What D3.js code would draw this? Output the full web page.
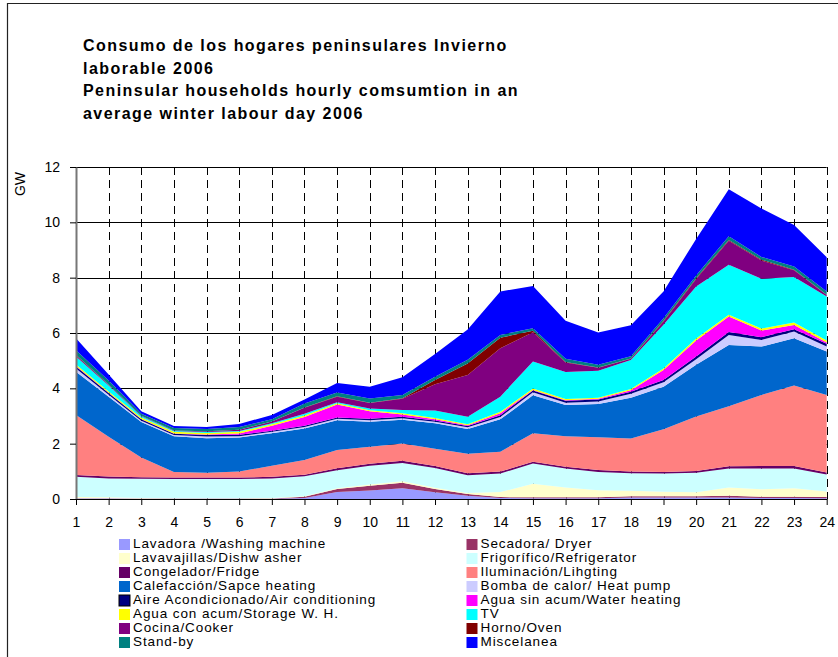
<!DOCTYPE html>
<html><head><meta charset="utf-8">
<script src="https://cdn.jsdelivr.net/npm/d3@7"></script>
<style>
body{margin:0;background:#fff;}
svg{display:block;font-family:"Liberation Sans",Arial,Helvetica,sans-serif;}
</style>
</head><body>
<svg id="chart" width="838" height="657"></svg>
<script>
// ---------- data ----------
const hours = [1,2,3,4,5,6,7,8,9,10,11,12,13,14,15,16,17,18,19,20,21,22,23,24];
const yTicks = [0,2,4,6,8,10,12];
const titleLines = [
  "Consumo de los hogares peninsulares Invierno",
  "laborable 2006",
  "Peninsular households hourly comsumtion in an",
  "average winter labour day 2006"
];
const yLabel = "GW";
const seriesNames = [
  "Lavadora /Washing machine",
  "Secadora/ Dryer",
  "Lavavajillas/Dishw asher",
  "Frigorífico/Refrigerator",
  "Congelador/Fridge",
  "Iluminación/Lihgting",
  "Calefacción/Sapce heating",
  "Bomba de calor/ Heat pump",
  "Aire Acondicionado/Air conditioning",
  "Agua sin acum/Water heating",
  "Agua con acum/Storage W. H.",
  "TV",
  "Cocina/Cooker",
  "Horno/Oven",
  "Stand-by",
  "Miscelanea"
];
const lavadora     = [0.02,0.02,0.01,0.01,0.01,0.01,0.01,0.04,0.25,0.31,0.39,0.24,0.12,0.04,0.03,0.03,0.03,0.05,0.05,0.05,0.05,0.04,0.04,0.03];
const secadora     = [0.01,0.01,0.01,0.01,0.01,0.01,0.01,0.04,0.11,0.17,0.20,0.12,0.06,0.03,0.03,0.03,0.03,0.05,0.05,0.05,0.07,0.04,0.04,0.04];
const lavavajillas = [0.04,0.03,0.02,0.01,0.01,0.01,0.02,0.02,0.03,0.04,0.05,0.05,0.04,0.18,0.49,0.36,0.26,0.20,0.16,0.14,0.30,0.27,0.31,0.20];
const frigorifico  = [0.73,0.68,0.69,0.69,0.69,0.69,0.70,0.72,0.65,0.68,0.66,0.71,0.64,0.67,0.73,0.68,0.66,0.63,0.66,0.71,0.68,0.75,0.71,0.62];
const congelador   = [0.07,0.07,0.06,0.06,0.06,0.06,0.06,0.06,0.07,0.07,0.08,0.07,0.07,0.07,0.07,0.07,0.07,0.06,0.06,0.06,0.08,0.09,0.09,0.07];
const iluminacion  = [2.17,1.44,0.71,0.20,0.17,0.21,0.40,0.53,0.66,0.62,0.63,0.63,0.71,0.72,1.03,1.10,1.18,1.20,1.54,1.97,2.17,2.57,2.91,2.80];
const calefaccion  = [1.56,1.45,1.28,1.29,1.25,1.23,1.18,1.14,1.08,0.90,0.85,0.92,0.89,1.17,1.37,1.13,1.20,1.47,1.54,1.87,2.22,1.75,1.71,1.57];
const bombaCalor   = [0.12,0.07,0.05,0.04,0.06,0.05,0.05,0.05,0.05,0.06,0.06,0.05,0.06,0.08,0.11,0.08,0.09,0.14,0.16,0.20,0.36,0.24,0.24,0.18];
const aireAcond    = [0.07,0.06,0.05,0.05,0.05,0.05,0.04,0.05,0.05,0.05,0.05,0.05,0.05,0.07,0.06,0.07,0.08,0.08,0.08,0.10,0.11,0.10,0.09,0.10];
const aguaSinAcum  = [0.02,0.01,0.01,0.01,0.02,0.05,0.18,0.31,0.47,0.27,0.08,0.04,0.03,0.07,0.02,0.02,0.02,0.05,0.36,0.58,0.56,0.24,0.15,0.05];
const aguaConAcum  = [0.05,0.05,0.06,0.06,0.06,0.06,0.05,0.06,0.04,0.04,0.05,0.05,0.03,0.05,0.05,0.04,0.04,0.05,0.06,0.07,0.06,0.07,0.09,0.07];
const tv           = [0.29,0.21,0.04,0.03,0.03,0.03,0.04,0.06,0.04,0.06,0.12,0.27,0.27,0.55,0.98,0.98,0.98,1.04,1.58,1.88,1.81,1.80,1.64,1.59];
const cocina       = [0.05,0.03,0.02,0.02,0.03,0.04,0.06,0.22,0.20,0.20,0.40,0.95,1.51,1.75,1.06,0.34,0.10,0.05,0.12,0.27,0.86,0.66,0.25,0.05];
const horno        = [0.01,0.01,0.00,0.00,0.00,0.00,0.00,0.01,0.01,0.01,0.02,0.15,0.42,0.38,0.05,0.02,0.01,0.01,0.02,0.03,0.03,0.03,0.02,0.01];
const standBy      = [0.17,0.14,0.07,0.09,0.08,0.10,0.08,0.14,0.14,0.15,0.12,0.12,0.13,0.10,0.09,0.12,0.10,0.08,0.09,0.10,0.14,0.10,0.11,0.12];
const miscelanea   = [0.43,0.22,0.09,0.07,0.07,0.11,0.16,0.15,0.34,0.43,0.64,0.82,1.10,1.57,1.53,1.37,1.17,1.12,0.97,1.32,1.70,1.75,1.50,1.24];

const seriesValues = [lavadora,secadora,lavavajillas,frigorifico,congelador,iluminacion,calefaccion,
  bombaCalor,aireAcond,aguaSinAcum,aguaConAcum,tv,cocina,horno,standBy,miscelanea];
const seriesColors = ["#9999FF","#993366","#FFFFCC","#CCFFFF","#660066","#FF8080","#0066CC",
  "#CCCCFF","#000080","#FF00FF","#FFFF00","#00FFFF","#800080","#800000","#008080","#0000FF"];

// ---------- drawing ----------
const W = 838, H = 657;
const svg = d3.select("#chart");
svg.append("rect").attr("width", W).attr("height", H).attr("fill", "#fff");
// frame
svg.append("path").attr("d", "M7.5,657 V3.5 H838").attr("fill","none").attr("stroke","#222").attr("stroke-width",1.2);

// title
const title = svg.append("text").attr("font-size", 16).attr("font-weight", "bold")
  .attr("letter-spacing", 1.45).attr("fill", "#000");
titleLines.forEach((t, i) => {
  title.append("tspan").attr("x", 83).attr("y", 51 + i * 22.7).text(t);
});

const x = d3.scaleLinear().domain([1, 24]).range([76, 826.7]);
const y = d3.scaleLinear().domain([0, 12]).range([499, 167]);

const keys = seriesNames.map((_, i) => "s" + i);
const table = hours.map((h, j) => {
  const row = { hour: h };
  seriesValues.forEach((arr, i) => { row["s" + i] = arr[j]; });
  return row;
});
const stacked = d3.stack().keys(keys)(table);

// gridlines
const grid = svg.append("g");
grid.selectAll("line.h").data(yTicks.filter(v => v > 0)).join("line")
  .attr("x1", x(1)).attr("x2", x(24))
  .attr("y1", d => Math.round(y(d)) + 0.5).attr("y2", d => Math.round(y(d)) + 0.5)
  .attr("stroke", "#000").attr("stroke-width", 1);
grid.selectAll("line.v").data(hours.filter(h => h > 1)).join("line")
  .attr("x1", d => Math.round(x(d)) + 0.5).attr("x2", d => Math.round(x(d)) + 0.5)
  .attr("y1", y(12)).attr("y2", y(0))
  .attr("stroke", "#000").attr("stroke-width", 1).attr("stroke-dasharray", "8,5");

// areas
const area = d3.area()
  .x(d => x(d.data.hour))
  .y0(d => y(d[0]))
  .y1(d => y(d[1]));
svg.append("g").selectAll("path").data(stacked).join("path")
  .attr("d", area)
  .attr("fill", (d, i) => seriesColors[i]);

// axes
const yAxis = svg.append("g").attr("transform", "translate(76,0)")
  .call(d3.axisLeft(y).tickValues(yTicks).tickSize(6).tickSizeOuter(0).tickPadding(10));
yAxis.select(".domain").attr("stroke", "#777").attr("stroke-width", 2);
yAxis.selectAll(".tick line").attr("stroke", "#000");
yAxis.selectAll("text").attr("font-size", 14).attr("font-family", "Liberation Sans, Arial, sans-serif").attr("fill", "#000");

const xAxis = svg.append("g").attr("transform", "translate(0,499)")
  .call(d3.axisBottom(x).tickValues(hours).tickSize(6).tickSizeOuter(0).tickPadding(12));
xAxis.select(".domain").attr("stroke", "#000");
xAxis.selectAll(".tick line").attr("stroke", "#000");
xAxis.selectAll("text").attr("font-size", 14).attr("font-family", "Liberation Sans, Arial, sans-serif").attr("fill", "#000");

// y label
svg.append("text").attr("transform", "translate(25,184) rotate(-90)")
  .attr("text-anchor", "middle").attr("font-size", 14).attr("fill", "#000").text(yLabel);

// legend
const legend = svg.append("g");
seriesNames.forEach((name, i) => {
  const col = i % 2, row = Math.floor(i / 2);
  const sx = col === 0 ? 119 : 466.5;
  const sy = 539 + row * 14;
  legend.append("rect").attr("x", sx).attr("y", sy).attr("width", 11).attr("height", 11)
    .attr("fill", seriesColors[i])
    .attr("stroke", i === 8 ? "#000" : "none").attr("stroke-width", 1);
  legend.append("text").attr("x", sx + 14).attr("y", sy + 8.8)
    .attr("font-size", 13.5).attr("letter-spacing", 0.9).attr("fill", "#000").text(name);
});
</script>
</body></html>
